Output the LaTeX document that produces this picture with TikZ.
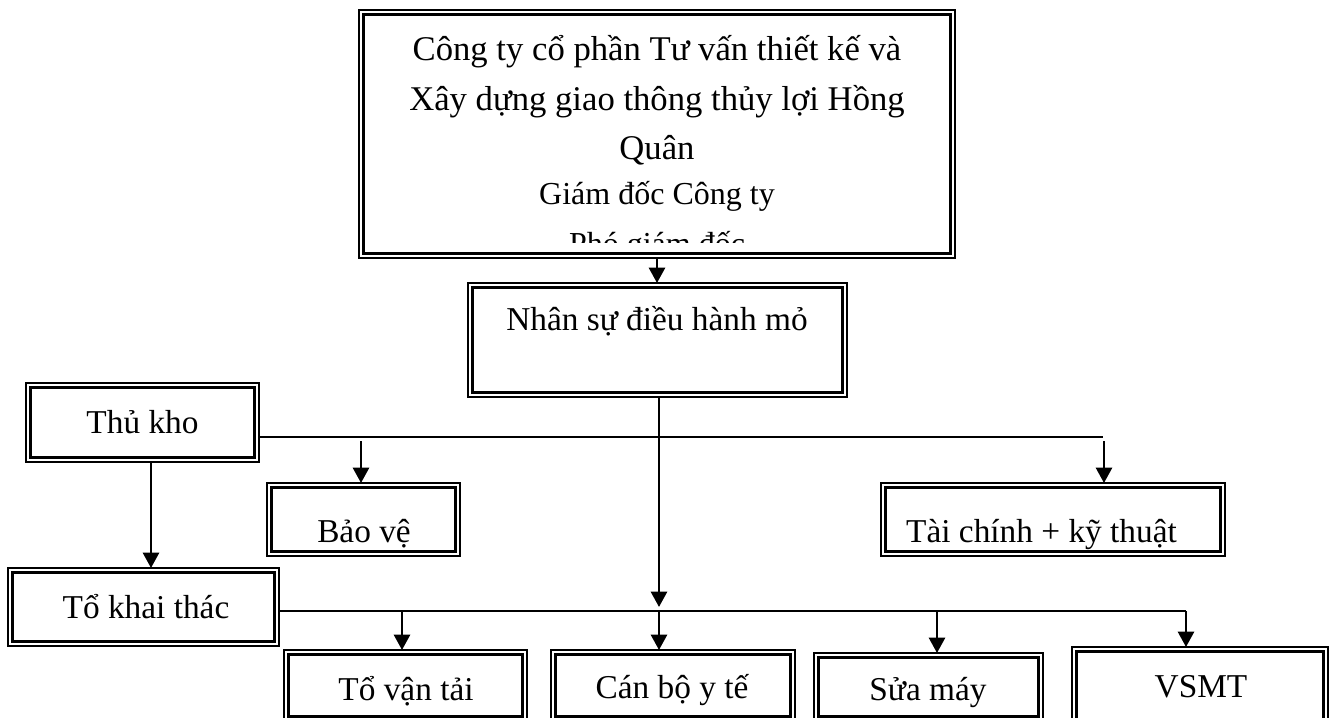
\documentclass[tikz,border=0pt]{standalone}
\usepackage{fontspec}
\setmainfont{Liberation Serif}
\usetikzlibrary{arrows.meta}
\begin{document}
\begin{tikzpicture}[x=0.75pt,y=-0.75pt,
  dbl/.style 2 args={draw, line width=0.9pt, inner sep=0pt, outer sep=0pt,
    minimum width=#1*0.75pt, minimum height=#2*0.75pt,
    path picture={\draw[line width=2.2pt]
      ([shift={(3.5pt,-3.5pt)}]path picture bounding box.north west) rectangle
      ([shift={(-3.5pt,3.5pt)}]path picture bounding box.south east);}},
  lbl/.style={anchor=base, font=\fontsize{25}{30}\selectfont, inner sep=0pt},
  big/.style={anchor=base, font=\fontsize{26}{30}\selectfont, inner sep=0pt},
  mid/.style={anchor=base, font=\fontsize{24}{28}\selectfont, inner sep=0pt},
  hl/.style={line width=1.2pt},
  va/.style={line width=2pt, -{Triangle[length=11.5pt,width=12pt]}},
]
\clip (0,0) rectangle (1336,718);
\fill[white] (0,0) rectangle (1336,718);

% boxes
\node[dbl={596}{248}] (top) at (657,134) {};
\node[dbl={379}{114}] (ns) at (657.5,340) {};
\node[dbl={233}{79}] (thu) at (142.5,422.5) {};
\node[dbl={193}{73}] (bv) at (363.5,519.5) {};
\node[dbl={344}{73}] (tc) at (1053,519.5) {};
\node[dbl={271}{78}] (tkt) at (143.5,607) {};
\node[dbl={243}{71}] (tvt) at (405.5,685.5) {};
\node[dbl={244}{71}] (cb) at (673,685.5) {};
\node[dbl={229}{68}] (sm) at (928.5,687) {};
\node[dbl={256}{98}] (vs) at (1200,696) {};

% top box text (clipped)
\begin{scope}
\clip (361,12) rectangle (953,242);
\node[big] (t1) at (657,60) {Công ty cổ phần Tư vấn thiết kế và};
\node[big] (t2) at (657,110) {Xây dựng giao thông thủy lợi Hồng};
\node[big] (t3) at (657,159) {Quân};
\node[mid] (t4) at (657,204) {Giám đốc Công ty};
\node[mid] (t5) at (657,254) {Phó giám đốc};
\end{scope}

% labels
\node[lbl] (nsl) at (657,330) {Nhân sự điều hành mỏ};
\node[lbl] (thul) at (142.5,433) {Thủ kho};
\node[lbl] (bvl) at (364,542) {Bảo vệ};
\node[lbl] (tcl) at (1041.5,542) {Tài chính + kỹ thuật};
\node[lbl] (tktl) at (146,618) {Tổ khai thác};
\node[lbl] (tvtl) at (406,700) {Tổ vận tải};
\node[lbl] (cbl) at (672,698) {Cán bộ y tế};
\node[lbl] (sml) at (928,700) {Sửa máy};
\node[lbl] (vsl) at (1201,697) {VSMT};

% connectors
\draw[va] (top.south) -- (top.south |- ns.north);
\coordinate (j2) at (659,611);
\draw[va] (ns.south -| j2) -- ([yshift=3pt]j2);
\draw[va] (j2) -- (j2 |- cb.north);

\coordinate (h1e) at (1103,437);
\draw[hl] (thu.east |- h1e) -- (h1e);
\coordinate (bvA) at (361,441);
\draw[va] (bvA) -- (bvA |- bv.north);
\coordinate (tcA) at (1104,441);
\draw[va] (tcA) -- (tcA |- tc.north);

\coordinate (kA) at (151,500);
\draw[va] (thu.south -| kA) -- (tkt.north -| kA);

\coordinate (h2e) at (1186,611);
\draw[hl] (tkt.east |- h2e) -- (h2e);
\coordinate (tvA) at (402,611);
\draw[va] (tvA) -- (tvA |- tvt.north);
\coordinate (smA) at (937,611);
\draw[va] (smA) -- (smA |- sm.north);
\draw[va] (h2e) -- (h2e |- vs.north);
\end{tikzpicture}
\end{document}
